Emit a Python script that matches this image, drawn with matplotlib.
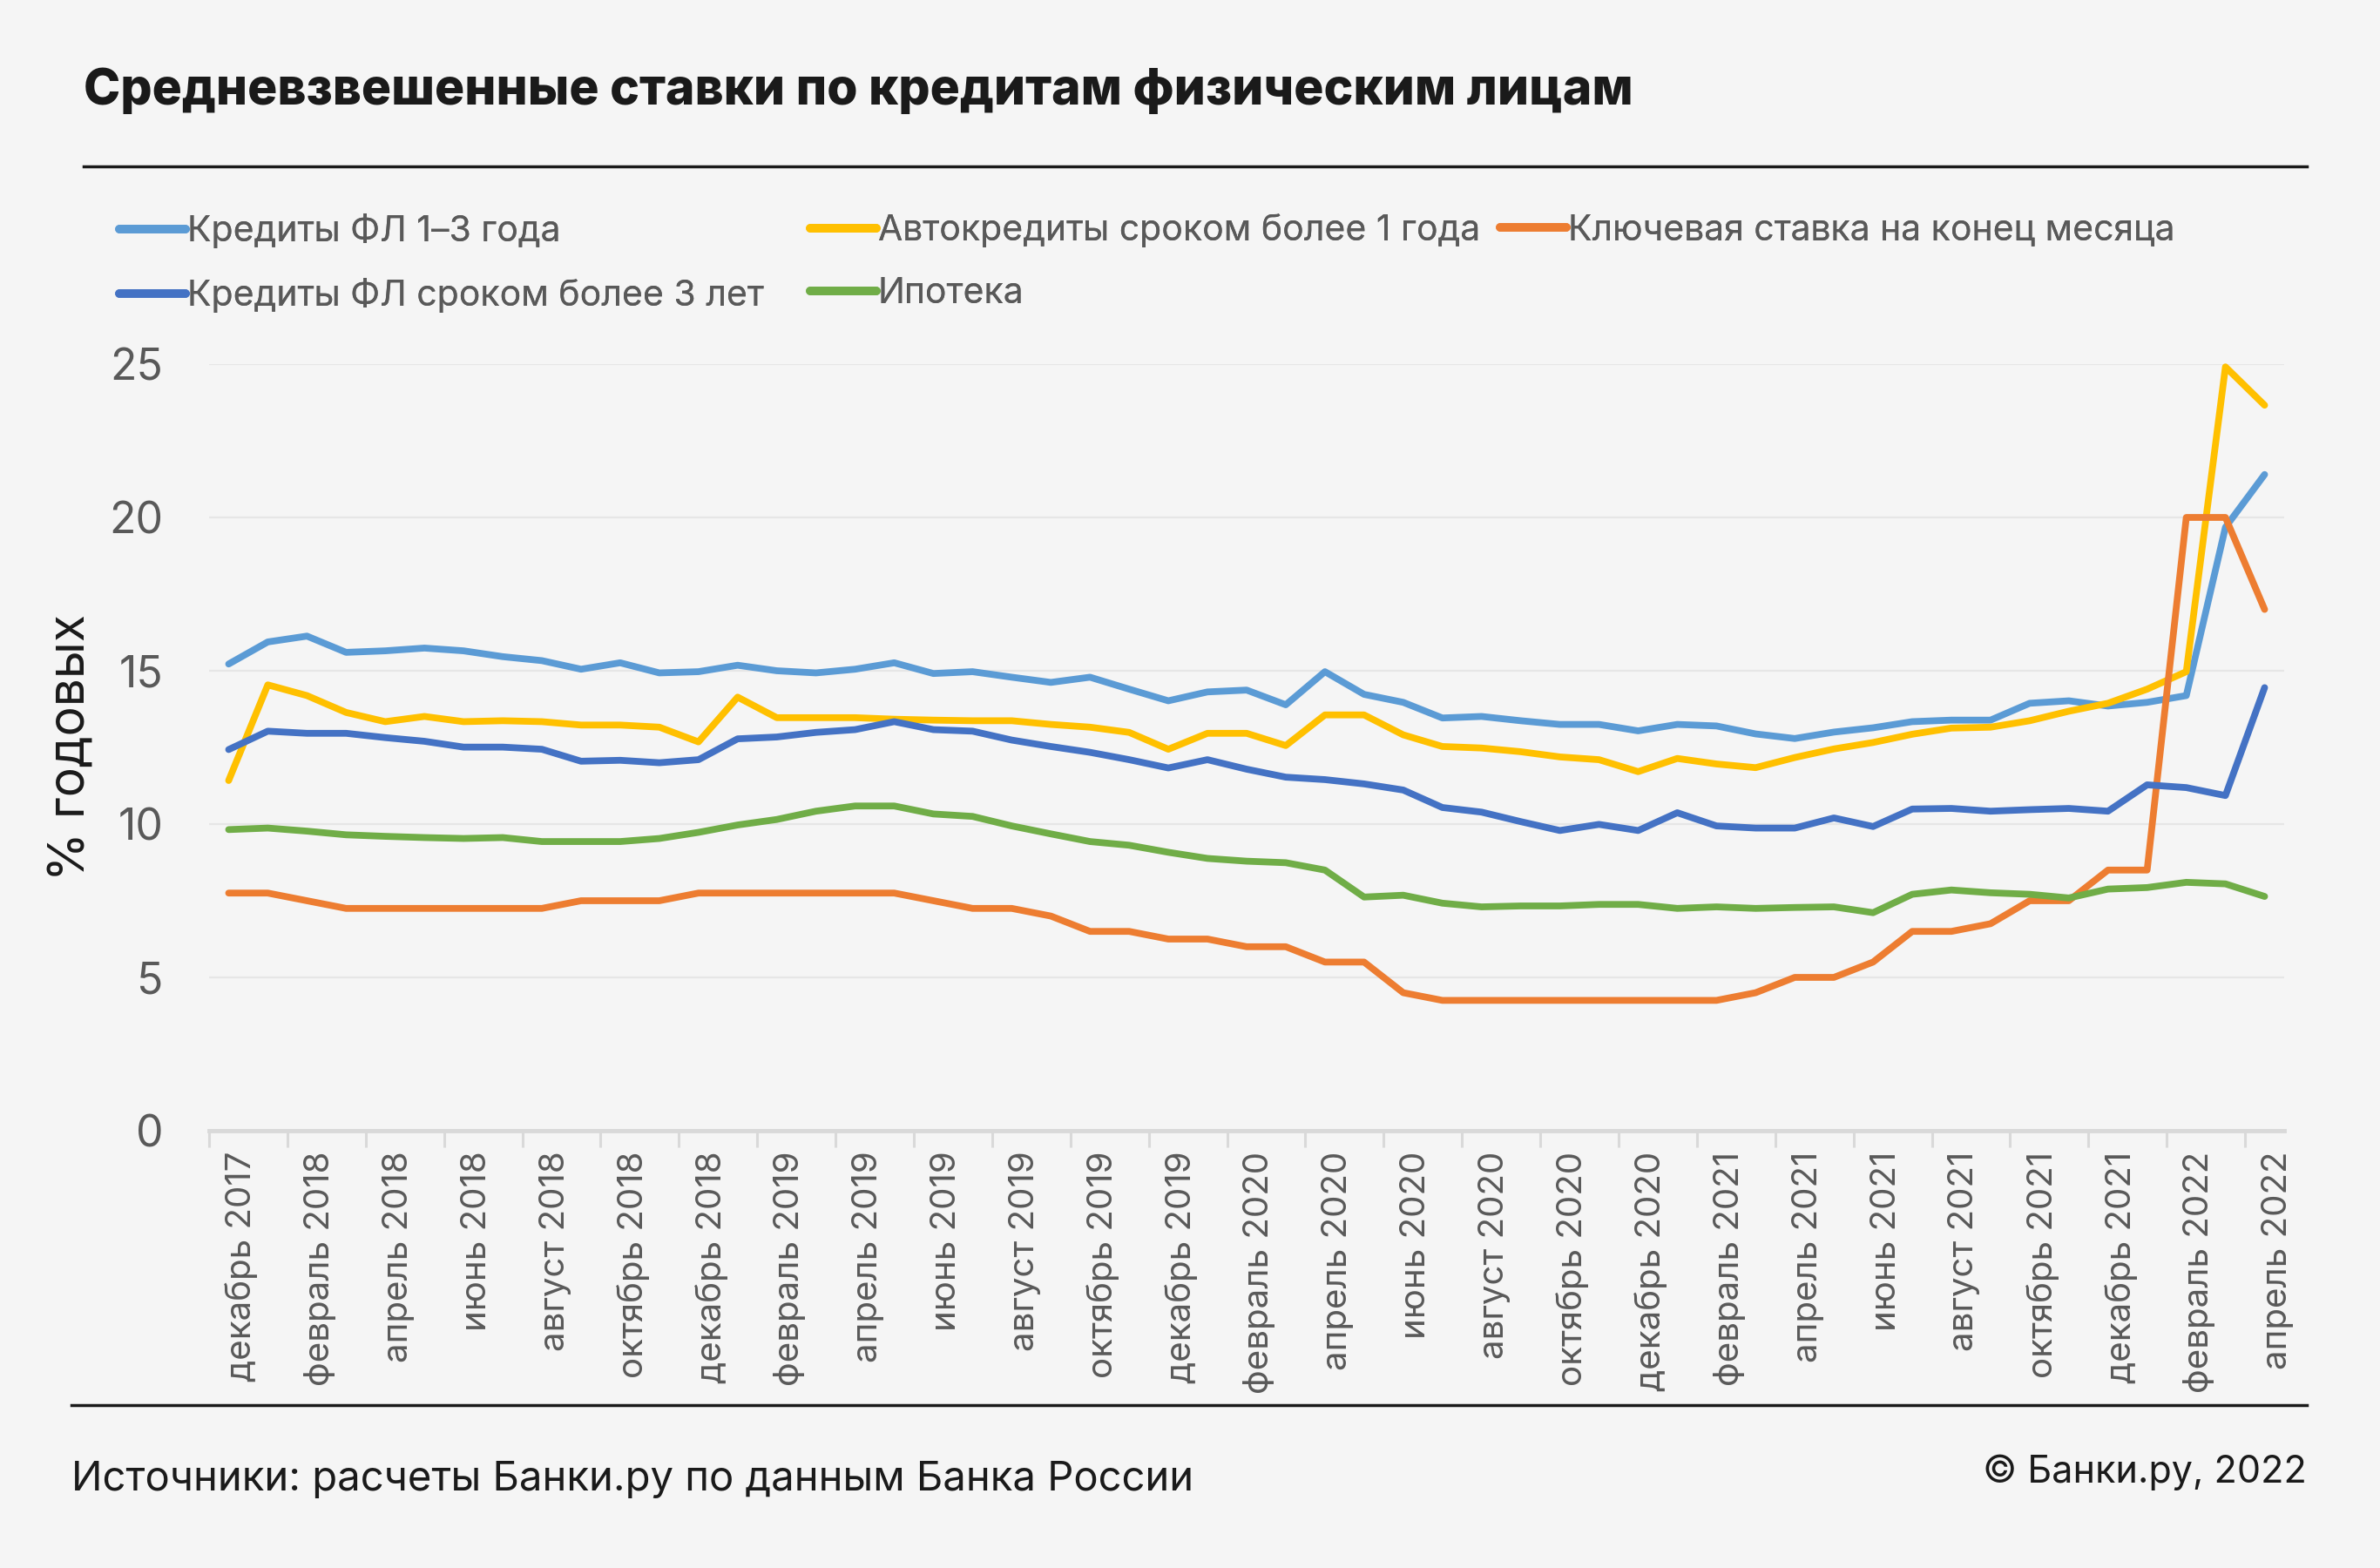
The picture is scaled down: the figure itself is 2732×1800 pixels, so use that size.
import matplotlib
matplotlib.use("Agg")
import matplotlib.pyplot as plt
import matplotlib.transforms as mtransforms
from matplotlib.lines import Line2D
import numpy as np

FONT = ["Inter", "DejaVu Sans"]
plt.rcParams["font.family"] = FONT

months_ru = ["январь", "февраль", "март", "апрель", "май", "июнь", "июль",
             "август", "сентябрь", "октябрь", "ноябрь", "декабрь"]
categories = ["декабрь 2017"] + [f"{m} {y}" for y in (2018, 2019, 2020, 2021) for m in months_ru] + \
             [f"{m} 2022" for m in months_ru[:4]]

credit_1_3 = [15.22, 15.94, 16.13, 15.6, 15.65, 15.74, 15.65, 15.46, 15.33, 15.05,
              15.26, 14.93, 14.97, 15.18, 15.0, 14.93, 15.05, 15.26, 14.91, 14.97,
              14.79, 14.62, 14.79, 14.4, 14.02, 14.31, 14.37, 13.89, 14.97, 14.23,
              13.97, 13.46, 13.51, 13.37, 13.25, 13.25, 13.04, 13.25, 13.2, 12.94,
              12.79, 13.0, 13.14, 13.34, 13.39, 13.39, 13.94, 14.02, 13.85, 13.97,
              14.19, 19.68, 21.4]
auto = [11.42, 14.54, 14.19, 13.64, 13.34, 13.51, 13.34, 13.37, 13.34, 13.23,
        13.23, 13.16, 12.68, 14.14, 13.47, 13.47, 13.47, 13.42, 13.39, 13.37,
        13.37, 13.25, 13.16, 12.99, 12.44, 12.96, 12.96, 12.56, 13.56, 13.56,
        12.91, 12.53, 12.48, 12.36, 12.19, 12.1, 11.71, 12.14, 11.96, 11.84,
        12.17, 12.45, 12.66, 12.93, 13.13, 13.16, 13.37, 13.68, 13.94, 14.4,
        14.97, 24.91, 23.66]
key_rate = [7.75, 7.75, 7.5, 7.25, 7.25, 7.25, 7.25, 7.25, 7.25, 7.5,
            7.5, 7.5, 7.75, 7.75, 7.75, 7.75, 7.75, 7.75, 7.5, 7.25,
            7.25, 7.0, 6.5, 6.5, 6.25, 6.25, 6.0, 6.0, 5.5, 5.5,
            4.5, 4.25, 4.25, 4.25, 4.25, 4.25, 4.25, 4.25, 4.25, 4.5,
            5.0, 5.0, 5.5, 6.5, 6.5, 6.75, 7.5, 7.5, 8.5, 8.5,
            20.0, 20.0, 17.0]
credit_3plus = [12.43, 13.03, 12.96, 12.96, 12.82, 12.7, 12.51, 12.51, 12.44, 12.05,
                12.08, 12.0, 12.1, 12.78, 12.84, 12.99, 13.08, 13.34, 13.08, 13.03,
                12.74, 12.53, 12.34, 12.1, 11.83, 12.1, 11.79, 11.53, 11.45, 11.31,
                11.11, 10.54, 10.39, 10.08, 9.79, 9.99, 9.79, 10.37, 9.94, 9.87,
                9.87, 10.2, 9.92, 10.49, 10.51, 10.42, 10.47, 10.51, 10.42, 11.28,
                11.19, 10.93, 14.45]
mortgage = [9.82, 9.87, 9.77, 9.65, 9.6, 9.56, 9.53, 9.56, 9.43, 9.43,
            9.43, 9.53, 9.73, 9.97, 10.15, 10.42, 10.59, 10.59, 10.33, 10.25,
            9.94, 9.68, 9.43, 9.31, 9.08, 8.88, 8.79, 8.74, 8.5, 7.62,
            7.68, 7.42, 7.3, 7.33, 7.33, 7.38, 7.38, 7.25, 7.3, 7.25,
            7.28, 7.3, 7.11, 7.71, 7.85, 7.76, 7.71, 7.59, 7.88, 7.93,
            8.1, 8.05, 7.64]

series_names = ["Кредиты ФЛ 1–3 года", "Автокредиты сроком более 1 года",
                "Ключевая ставка на конец месяца", "Кредиты ФЛ сроком более 3 лет", "Ипотека"]
series_values = [credit_1_3, auto, key_rate, credit_3plus, mortgage]
series_colors = ["#5B9BD5", "#FFC000", "#ED7D31", "#4472C4", "#70AD47"]
y_ticks = [0, 5, 10, 15, 20, 25]

BG = "#f5f5f5"
W, H = 2732, 1800
fig = plt.figure(figsize=(W / 100, H / 100), dpi=100, facecolor=BG)

ax = fig.add_axes([240 / W, 1 - 1298 / H, (2622 - 240) / W, (1298 - 418) / H])
ax.set_facecolor(BG)

x = np.arange(len(categories))
handles = []
for name, vals, col in zip(series_names, series_values, series_colors):
    ln, = ax.plot(x, vals, color=col, lw=5.6, solid_capstyle="round",
                  solid_joinstyle="round", clip_on=False, label=name, zorder=3)
    handles.append(ln)

ax.set_xlim(-0.5, len(categories) - 0.5)
ax.set_ylim(0, 25)
ax.set_yticks(y_ticks)
ax.set_yticklabels([str(v) for v in y_ticks], fontsize=36, color="#595959")
ax.tick_params(axis="y", length=0, pad=38)
ax.yaxis.grid(True, color="#e6e6e6", lw=1.6, zorder=0)
ax.set_axisbelow(True)

# x axis: tick marks between category pairs, labels at every 2nd category
ax.set_xticks(np.arange(-0.5, len(categories) - 1, 2))
ax.set_xticklabels([])
ax.tick_params(axis="x", which="major", length=14, width=2.2, color="#d9d9d9")
ax.set_xticks(x[::2], minor=True)
ax.set_xticklabels(categories[::2], minor=True, rotation=90, fontsize=29,
                   color="#595959", va="top", ha="center")
ax.tick_params(axis="x", which="minor", length=0, pad=17)
shift = mtransforms.ScaledTranslation(15 / 100, 0, fig.dpi_scale_trans)
for lbl in ax.get_xticklabels(minor=True):
    lbl.set_transform(lbl.get_transform() + shift)

for s in ["top", "right", "left"]:
    ax.spines[s].set_visible(False)
ax.spines["bottom"].set_color("#d9d9d9")
ax.spines["bottom"].set_linewidth(3.5)

ax.set_ylabel("% годовых", fontsize=41, color="#1a1a1a", labelpad=12)

# Title and rules
fig.text(96 / W, 1 - 105 / H, "Средневзвешенные ставки по кредитам физическим лицам",
         fontsize=41, fontweight="heavy", color="#1a1a1a", va="center", ha="left")
fig.add_artist(Line2D([96 / W, 2648 / W], [1 - 191 / H] * 2, color="#1a1a1a", lw=2.5))
fig.add_artist(Line2D([82 / W, 2648 / W], [1 - 1613 / H] * 2, color="#1a1a1a", lw=2.5))

# Legend (row-major, fixed columns)
col_x = [137, 930, 1722]
rows = [[0, 3], [1, 4], [2]]
for cx, idxs in zip(col_x, rows):
    lg = fig.legend([handles[i] for i in idxs], [series_names[i] for i in idxs],
                    loc="upper left", bbox_to_anchor=(cx / W, 1 - 245 / H),
                    frameon=False, fontsize=29.5, labelcolor="#595959",
                    handlelength=1.85, handletextpad=0.05, labelspacing=0.84,
                    borderaxespad=0, borderpad=0)
    for h in lg.legend_handles:
        h.set_linewidth(7)
        h.set_solid_capstyle("round")
    fig.add_artist(lg)

fig.text(82 / W, 1 - 1699 / H, "Источники: расчеты Банки.ру по данным Банка России",
         fontsize=34, color="#1a1a1a", va="center", ha="left")
fig.text(2648 / W, 1 - 1690 / H, "© Банки.ру, 2022",
         fontsize=31, color="#1a1a1a", va="center", ha="right")

fig.savefig("out.png", dpi=100, facecolor=BG)
